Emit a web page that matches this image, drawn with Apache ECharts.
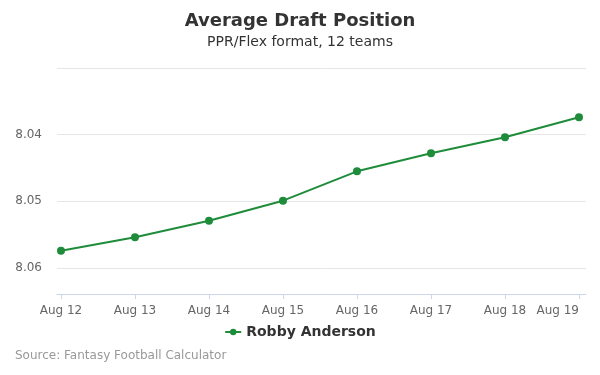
<!DOCTYPE html>
<html><head><meta charset="utf-8">
<script src="https://cdn.jsdelivr.net/npm/echarts@6/dist/echarts.min.js"></script>
<style>html,body{margin:0;padding:0;background:#fff}#c{width:600px;height:375px}</style>
</head><body><div id="c"></div>
<script>
const categories = ["Aug 12","Aug 13","Aug 14","Aug 15","Aug 16","Aug 17","Aug 18","Aug 19"];
const adpValues = [8.0574, 8.0554, 8.0529, 8.0499, 8.0455, 8.0428, 8.0404, 8.0374];
const seriesName = "Robby Anderson";
const yTicks = [8.03, 8.04, 8.05, 8.06];

const font = "DejaVu Sans";
const chart = echarts.init(document.getElementById('c'), null, {renderer:'canvas'});
const idx = categories.map((_, i) => i);
chart.setOption({
  animation:false,
  textStyle:{fontFamily:font},
  title:{
    text:"Average Draft Position",
    subtext:"PPR/Flex format, 12 teams",
    left:'center', top:7, itemGap:5,
    textStyle:{fontFamily:font,fontSize:18,fontWeight:'bold',color:'#333'},
    subtextStyle:{fontFamily:font,fontSize:14,color:'#333'}
  },
  legend:{
    data:[seriesName], top:320, left:'center',
    itemWidth:16, itemHeight:8,
    textStyle:{fontFamily:font,fontSize:14,fontWeight:'bold',color:'#333'}
  },
  graphic:[{type:'text',left:15,top:350,style:{text:"Source: Fantasy Football Calculator",fontFamily:font,fontSize:12,fill:'#999'}}],
  grid:{left:57,right:14,top:68,bottom:81},
  xAxis:{
    type:'value', min:-0.054, max:7.095,
    splitLine:{show:false},
    axisLine:{show:true,lineStyle:{color:'#ccd6eb'}},
    axisTick:{show:true,customValues:idx,length:5,lineStyle:{color:'#ccd6eb'}},
    axisLabel:{customValues:idx,margin:11,color:'#666',fontFamily:font,fontSize:12,
      formatter:v=>categories[Math.round(v)]||'', alignMaxLabel:'right'}
  },
  yAxis:{
    type:'value', inverse:true, min:8.03, max:8.0639, interval:0.01,
    axisLine:{show:false}, axisTick:{show:false},
    splitLine:{lineStyle:{color:'#e6e6e6'}},
    axisLabel:{margin:15,color:'#666',fontFamily:font,fontSize:12,
      customValues:yTicks.slice(1),
      formatter:v=>v.toFixed(2)}
  },
  series:[{
    name:seriesName, type:'line',
    data:adpValues.map((v,i)=>[i,v]),
    symbol:'circle', symbolSize:8,
    lineStyle:{color:'#1e8c3a',width:2},
    itemStyle:{color:'#1e8c3a'}
  }]
});
</script></body></html>
